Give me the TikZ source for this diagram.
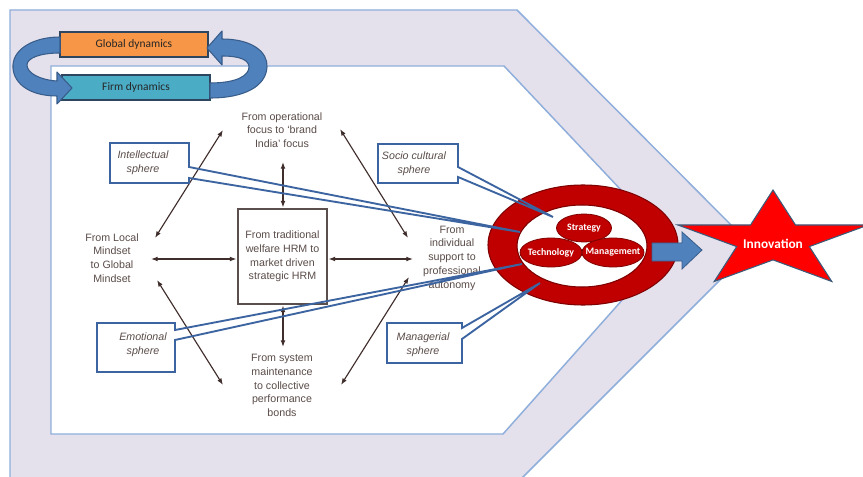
\documentclass[tikz,border=0pt]{standalone}
\usepackage{fontspec}
\setmainfont{Liberation Sans}
\newfontfamily\calib{Carlito}
\usetikzlibrary{arrows.meta,shapes.geometric}
\definecolor{lav}{HTML}{E4E0EC}
\definecolor{edgeblue}{HTML}{8EAEDB}
\definecolor{txt}{HTML}{5A4C49}
\definecolor{arr}{HTML}{3F2E2B}
\definecolor{boxedge}{HTML}{5A4F4C}
\definecolor{callblue}{HTML}{3B64A0}
\definecolor{ringred}{HTML}{C00000}
\definecolor{ringedge}{HTML}{7F0000}
\definecolor{arrowblue}{HTML}{4F81BD}
\definecolor{arrowedge}{HTML}{385D8A}
\definecolor{gorange}{HTML}{F79646}
\definecolor{fteal}{HTML}{4BACC6}
\definecolor{dynedge}{HTML}{2E4560}
\definecolor{dyntext}{HTML}{262626}
\definecolor{starred}{HTML}{FF0000}
\definecolor{staredge}{HTML}{3B5A7A}
\begin{document}
\begin{tikzpicture}[x=0.75pt,y=-0.75pt,
 hrmtext/.style={text=txt,font=\fontsize{8}{10.3}\selectfont,align=center,inner sep=0pt},
 hrmarrow/.style={draw=arr,line width=0.85pt,{Latex[length=5pt,width=3.6pt]}-{Latex[length=5pt,width=3.6pt]}},
 spheretext/.style={text=txt,font=\fontsize{8}{10.8}\selectfont\itshape,align=center,inner sep=0pt},
 callline/.style={draw=callblue,line width=1.4pt,line join=miter},
 ringtext/.style={text=white,font=\calib\bfseries\fontsize{7.4}{8}\selectfont,inner sep=0pt},
 ellfill/.style={fill=ringred,draw=ringedge,line width=0.6pt},
 dynbox/.style={draw=dynedge,line width=0.8pt,minimum width=111pt,minimum height=18.75pt,inner sep=0pt,font=\calib\fontsize{8.6}{10}\selectfont,text=dyntext},
 curvearrow/.style={fill=arrowblue,draw=arrowedge,line width=0.8pt,line join=round},
 band/.style={fill=lav,draw=edgeblue,line width=1.1pt}]
\useasboundingbox (0,0) rectangle (863,477);
\clip (0,0) rectangle (863,477);
\fill[white] (0,0) rectangle (863,477);
% chevron frames
\path[band] (10,10) -- (517,10) -- (753,247) -- (517,483) -- (10,483) -- cycle;
\path[fill=white,draw=edgeblue,line width=1.1pt] (51,66) -- (504,66) -- (672,244) -- (503,434) -- (51,434) -- cycle;
% dynamics
\node[dynbox,fill=gorange] (glob) at (134,44.5) {Global dynamics};
\node[dynbox,fill=fteal] (firm) at (136,87.5) {Firm dynamics};
\path[curvearrow] (60,53) .. controls (40,53) and (27,58) .. (27,65) .. controls (27,73) and (40,80) .. (57,81) -- (57,72) -- (72,88) -- (57,104) -- (57,96) .. controls (28,96) and (12,82) .. (13,65) .. controls (14,48) and (35,37) .. (60,37) -- cycle;
\path[curvearrow] (210,83) .. controls (238,83) and (249,75) .. (249,67) .. controls (249,60) and (240,56) .. (222,56) -- (222,65) -- (207,48) -- (222,31) -- (222,39) .. controls (252,39) and (268,52) .. (267,67) .. controls (266,86) and (245,98) .. (210,98) -- cycle;
% HRM diagram texts
\node[hrmtext] (topt) at (282,130) {From operational\\focus to ‘brand\\India’ focus};
\node[hrmtext] (leftt) at (112,258) {From Local\\Mindset\\to Global\\Mindset};
\node[hrmtext] (rightt) at (452,258) {From\\individual\\support to\\professional\\autonomy};
\node[hrmtext] (bott) at (282,385.5) {From system\\maintenance\\to collective\\performance\\bonds};
\node[hrmtext,draw=boxedge,line width=1.1pt,minimum width=66.75pt,minimum height=71.25pt] (hrm) at (282.5,256.5) {From traditional\\welfare HRM to\\market driven\\strategic HRM};
% arrow end points
\coordinate (a1s) at (283,162); \coordinate (a1e) at (283,207.5);
\coordinate (a2s) at (283,305.5); \coordinate (a2e) at (283,347);
\coordinate (a3s) at (151,259); \coordinate (a3e) at (236.5,259);
\coordinate (a4s) at (328.5,259); \coordinate (a4e) at (413,259);
\coordinate (a5s) at (155,238); \coordinate (a5e) at (223,130);
\coordinate (a6s) at (340,129); \coordinate (a6e) at (408,238);
\coordinate (a7s) at (157,280); \coordinate (a7e) at (223,385);
\coordinate (a8s) at (341,385); \coordinate (a8e) at (409,277);
\draw[hrmarrow] (a1s) -- (a1e);
\draw[hrmarrow] (a2s) -- (a2e);
\draw[hrmarrow] (a3s) -- (a3e);
\draw[hrmarrow] (a4s) -- (a4e);
\draw[hrmarrow] (a5s) -- (a5e);
\draw[hrmarrow] (a6s) -- (a6e);
\draw[hrmarrow] (a7s) -- (a7e);
\draw[hrmarrow] (a8s) -- (a8e);
% ring
\path[fill=ringred,draw=ringedge,line width=0.8pt,even odd rule] (583,245) ellipse [x radius=95,y radius=60] (582,246) ellipse [x radius=65,y radius=41];
\path[ellfill] (584,228) ellipse [x radius=27.5,y radius=14];
\path[ellfill] (551,252.5) ellipse [x radius=31,y radius=14.5];
\path[ellfill] (613,252.5) ellipse [x radius=31,y radius=14.5];
\node[ringtext] (strat) at (584,228) {Strategy};
\node[ringtext] (tech) at (551,252.5) {Technology};
\node[ringtext] (mgmt) at (613,252.5) {Management};
% callouts
\coordinate (tipI) at (520,232);
\coordinate (tipS) at (553,217);
\coordinate (tipE) at (522,264);
\coordinate (tipM) at (540,283);
\fill[white] (110,143) rectangle (189,183);
\draw[callline] (189,167) -- (189,143) -- (110,143) -- (110,183) -- (189,183) -- (189,178) -- (tipI) -- cycle;
\node[spheretext] (intel) at (143,162.5) {Intellectual\\sphere};
\fill[white] (378,144) rectangle (458,183);
\draw[callline] (458,167) -- (458,144) -- (378,144) -- (378,183) -- (458,183) -- (458,177) -- (tipS) -- cycle;
\node[spheretext] (socio) at (414,163.5) {Socio cultural\\sphere};
\fill[white] (97,323) rectangle (175,372);
\draw[callline] (175,330) -- (175,323) -- (97,323) -- (97,372) -- (175,372) -- (175,340) -- (tipE) -- cycle;
\node[spheretext] (emo) at (143,345) {Emotional\\sphere};
\fill[white] (387,323) rectangle (462,363);
\draw[callline] (462,328) -- (462,323) -- (387,323) -- (387,363) -- (462,363) -- (462,339) -- (tipM) -- cycle;
\node[spheretext] (mana) at (423,345) {Managerial\\sphere};
% block arrow
\path[fill=arrowblue,draw=arrowedge,line width=0.6pt] (652,243) -- (682,243) -- (682,232) -- (702,250) -- (682,269) -- (682,261) -- (652,261) -- cycle;
% star
\path[fill=starred,draw=staredge,line width=0.8pt,line join=miter] (773,190) -- (750.5,225) -- (677.9,225) -- (736.7,246.6) -- (714.2,281.5) -- (773,259.9) -- (831.8,281.5) -- (809.3,246.6) -- (868.1,225) -- (795.5,225) -- cycle;
\node[text=white,font=\calib\bfseries\fontsize{10}{12}\selectfont,inner sep=0pt] (innov) at (773,244) {Innovation};
\end{tikzpicture}
\end{document}
